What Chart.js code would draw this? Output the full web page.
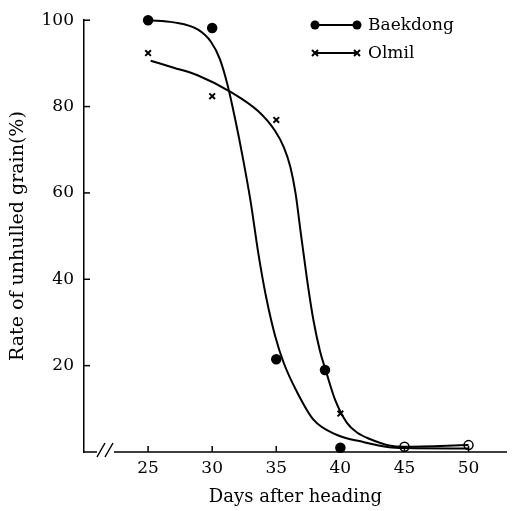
<!DOCTYPE html>
<html>
<head>
<meta charset="utf-8">
<script src="https://cdn.jsdelivr.net/npm/chart.js@4/dist/chart.umd.min.js"></script>
<style>
    html, body { margin: 0; padding: 0; background: #fff; }
    canvas { display: block; }
</style>
</head>
<body>
<canvas id="grain-chart" width="513" height="511"></canvas>
<script>
// observed points
var baekdongDays = [25, 30, 35, 38.8, 40, 45, 50];
var baekdongRate = [100, 98.2, 21.5, 19, 1, 1.2, 1.6];
var olmilDays = [25, 30, 35, 40, 45, 50];
var olmilRate = [92.4, 82.4, 76.9, 8.9, 1.2, 1.6];

// hand-drawn fitted curves
var baekdongCurveDays = [25, 27, 28.9, 29.9, 30.6, 31.2, 31.8, 32.4, 33.0, 33.6, 34.2, 34.9, 35.6, 36.6, 37.9, 39.7, 41.8, 43.8, 45, 50];
var baekdongCurveRate = [100, 99.5, 97.8, 95, 91, 85, 77, 68, 58, 46, 36, 27, 20.5, 14, 7.5, 4, 2.3, 1.1, 0.9, 0.8];
var olmilCurveDays = [25.2, 27, 28.9, 31.5, 33.6, 34.9, 35.6, 36.1, 36.5, 36.9, 37.4, 37.9, 38.4, 38.9, 39.6, 40.5, 41.3, 42.3, 43.8, 45, 50];
var olmilCurveRate = [90.6, 89, 87.2, 83.3, 78.9, 74.4, 70.5, 66, 60, 51, 40, 30.5, 23.5, 18.5, 12, 6.8, 4.5, 3, 1.5, 1.2, 1.6];

var xTicks = [25, 30, 35, 40, 45, 50];
var yTicks = [20, 40, 60, 80, 100];

var seriesNames = ["Baekdong", "Olmil"];

function toPoints(xs, ys) {
    return xs.map(function (x, i) { return { x: x, y: ys[i] }; });
}

var serif = "'DejaVu Serif', 'Liberation Serif', serif";

// axis break, inward ticks and the legend
var paperPlugin = {
    id: 'paper',
    afterDraw: function (chart) {
        var ctx = chart.ctx;
        var area = chart.chartArea;
        var xs = chart.scales.x, ys = chart.scales.y;
        ctx.save();
        ctx.strokeStyle = '#000';
        ctx.lineWidth = 1.5;

        // x axis with break marks
        ctx.beginPath();
        ctx.moveTo(area.left, area.bottom);
        ctx.lineTo(area.left + 13, area.bottom);
        ctx.moveTo(area.left + 30, area.bottom);
        ctx.lineTo(area.right, area.bottom);
        ctx.moveTo(area.left + 13, area.bottom + 5);
        ctx.lineTo(area.left + 21, area.bottom - 9);
        ctx.moveTo(area.left + 21, area.bottom + 5);
        ctx.lineTo(area.left + 29, area.bottom - 9);
        ctx.stroke();

        xTicks.forEach(function (v) {
            var px = xs.getPixelForValue(v);
            ctx.beginPath();
            ctx.moveTo(px, area.bottom);
            ctx.lineTo(px, area.bottom - 6);
            ctx.stroke();
        });
        yTicks.forEach(function (v) {
            var py = ys.getPixelForValue(v);
            ctx.beginPath();
            ctx.moveTo(area.left, py);
            ctx.lineTo(area.left + 6, py);
            ctx.stroke();
        });

        // legend
        var lx1 = 315, lx2 = 357, tx = 368;
        var rows = [25, 53];
        ctx.fillStyle = '#000';
        ctx.font = '17px ' + serif;
        ctx.textBaseline = 'middle';
        rows.forEach(function (ry, i) {
            ctx.lineWidth = 2;
            ctx.beginPath();
            ctx.moveTo(lx1, ry);
            ctx.lineTo(lx2, ry);
            ctx.stroke();
            [lx1, lx2].forEach(function (mx) {
                if (i === 0) {
                    ctx.beginPath();
                    ctx.arc(mx, ry, 4.5, 0, Math.PI * 2);
                    ctx.fill();
                } else {
                    ctx.beginPath();
                    ctx.moveTo(mx - 3, ry - 3); ctx.lineTo(mx + 3, ry + 3);
                    ctx.moveTo(mx + 3, ry - 3); ctx.lineTo(mx - 3, ry + 3);
                    ctx.stroke();
                }
            });
            ctx.fillText(seriesNames[i], tx, ry + 1);
        });
        ctx.restore();
    }
};

new Chart(document.getElementById('grain-chart'), {
    type: 'scatter',
    data: {
        datasets: [
            {
                label: seriesNames[0] + ' curve',
                data: toPoints(baekdongCurveDays, baekdongCurveRate),
                showLine: true,
                borderColor: '#000',
                borderWidth: 2,
                pointRadius: 0,
                cubicInterpolationMode: 'monotone'
            }, {
                label: seriesNames[1] + ' curve',
                data: toPoints(olmilCurveDays, olmilCurveRate),
                showLine: true,
                borderColor: '#000',
                borderWidth: 2,
                pointRadius: 0,
                cubicInterpolationMode: 'monotone'
            }, {
                label: seriesNames[0],
                data: toPoints(baekdongDays, baekdongRate),
                pointStyle: 'circle',
                pointRadius: 4.5,
                borderWidth: 1.5,
                borderColor: '#000',
                pointBackgroundColor: function (c) {
                    return c.raw && c.raw.x >= 45 ? '#fff' : '#000';
                }
            }, {
                label: seriesNames[1],
                data: toPoints(olmilDays, olmilRate),
                pointStyle: 'crossRot',
                pointRadius: 4,
                borderWidth: 2,
                borderColor: '#000'
            }
        ]
    },
    options: {
        responsive: false,
        animation: false,
        clip: false,
        layout: { padding: { top: 15, right: 1 } },
        plugins: {
            legend: { display: false },
            tooltip: { enabled: false }
        },
        scales: {
            x: {
                type: 'linear',
                min: 20,
                max: 53,
                afterBuildTicks: function (s) { s.ticks = xTicks.map(function (v) { return { value: v }; }); },
                afterFit: function (s) { s.height = 59; },
                grid: { display: false, drawTicks: false },
                border: { display: false },
                ticks: { color: '#000', padding: 6, maxRotation: 0, font: { family: serif, size: 17 } },
                title: {
                    display: true,
                    text: 'Days after heading',
                    color: '#000',
                    padding: { top: 0, bottom: 3 },
                    font: { family: serif, size: 18 }
                }
            },
            y: {
                min: 0,
                max: 100,
                afterBuildTicks: function (s) { s.ticks = yTicks.map(function (v) { return { value: v }; }); },
                afterFit: function (s) { s.width = 84; },
                grid: { display: false, drawTicks: false },
                border: { display: true, color: '#000', width: 1.5 },
                ticks: { color: '#000', padding: 10, font: { family: serif, size: 17 } },
                title: {
                    display: true,
                    text: 'Rate of unhulled grain(%)',
                    color: '#000',
                    padding: { top: 7, bottom: 0 },
                    font: { family: serif, size: 19 }
                }
            }
        }
    },
    plugins: [paperPlugin]
});
</script>
</body>
</html>
